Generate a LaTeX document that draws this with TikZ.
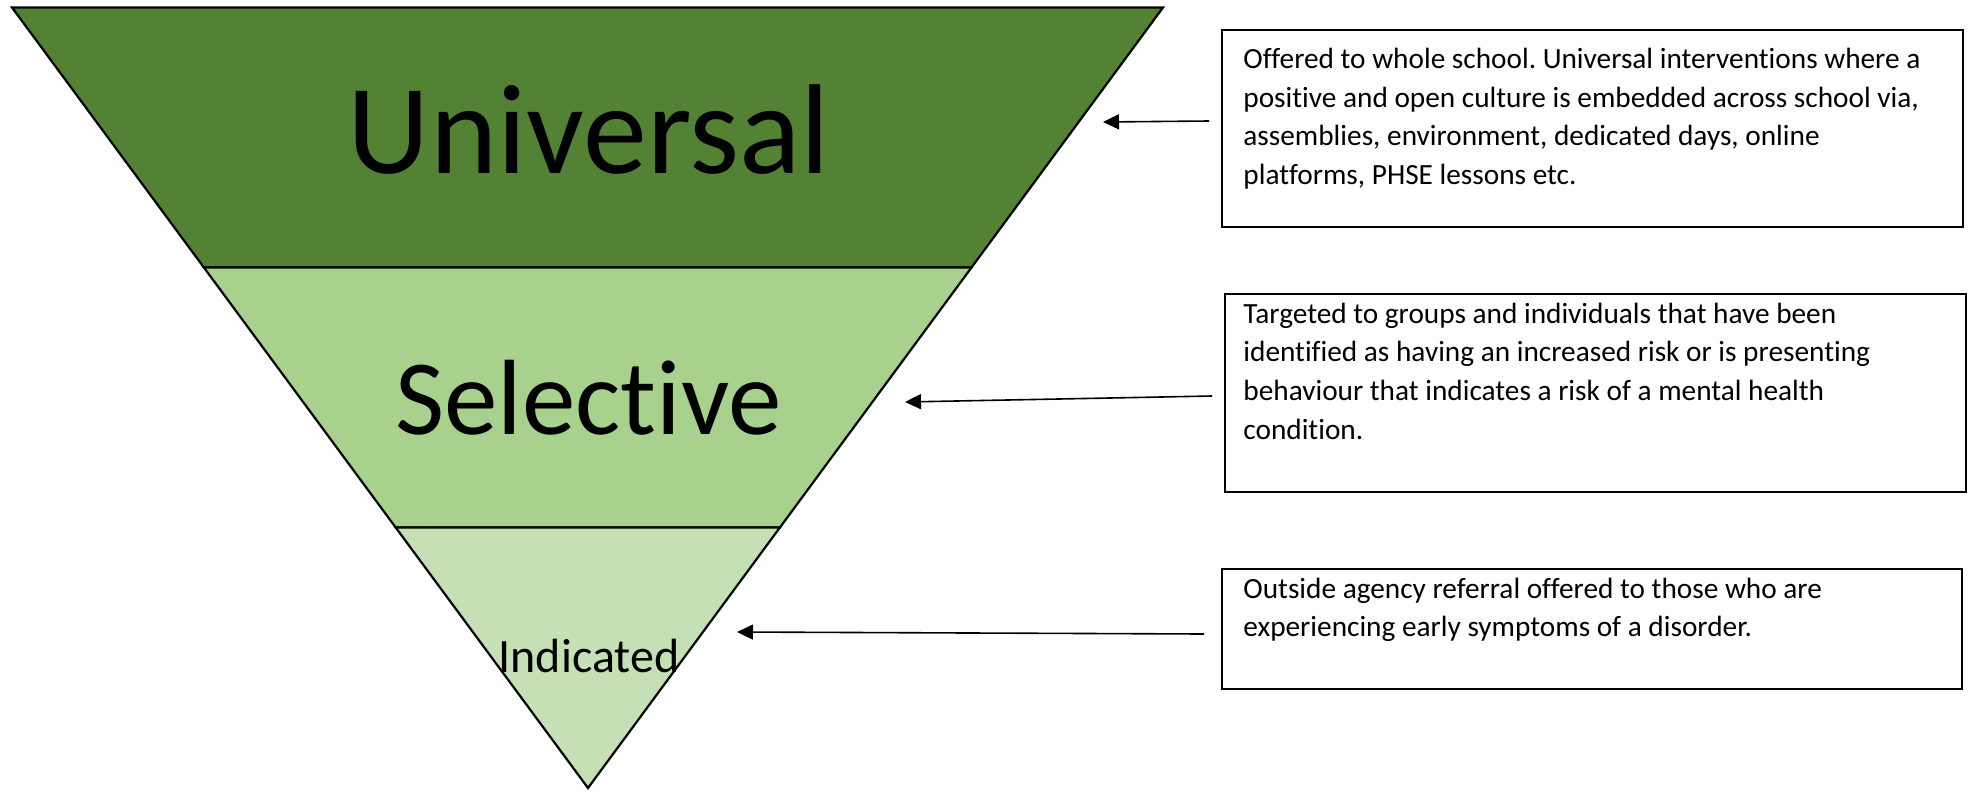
\documentclass[tikz,border=0pt]{standalone}
\usepackage{fontspec}
\setmainfont{Carlito}[Ligatures={NoCommon}]
\usetikzlibrary{arrows.meta}
\definecolor{univgreen}{HTML}{548235}
\definecolor{selgreen}{HTML}{A9D18E}
\definecolor{indgreen}{HTML}{C5E0B4}
\frenchspacing
\begin{document}
\begin{tikzpicture}[x=0.5pt,y=-0.5pt,
  band/.style={draw=black,line width=1.1pt,line join=miter},
  infobox/.style={draw=black,line width=1pt,fill=white,inner sep=0pt,anchor=north west},
  boxtext/.style={anchor=base west,inner sep=0pt,font=\fontsize{14.65}{19.4}\selectfont},
  tierlabel/.style={anchor=base,inner sep=0pt},
  pointer/.style={draw=black,line width=0.8pt,-{Triangle[length=8pt,width=7.5pt]}}
  ]
\useasboundingbox (0,0) rectangle (1970,793);
% pyramid bands
\path[band,fill=univgreen] (12,7.5) -- (1163,7.5) -- (971.5,267.5) -- (203.9,267.5) -- cycle;
\path[band,fill=selgreen] (203.9,267.5) -- (971.5,267.5) -- (779.9,527.5) -- (395.7,527.5) -- cycle;
\path[band,fill=indgreen] (395.7,527.5) -- (779.9,527.5) -- (588,788) -- cycle;
% tier labels
\node[tierlabel,font=\fontsize{64}{64}\selectfont] (universal) at (589,173) {Universal};
\node[tierlabel,font=\fontsize{53.5}{53.5}\selectfont] (selective) at (588.5,434) {Selective};
\node[tierlabel,font=\fontsize{24}{24}\selectfont] (indicated) at (589,672) {Indicated};
% info boxes
\node[infobox,minimum width=370.5pt,minimum height=98.5pt] (boxU) at (1221,29) {};
\node[infobox,minimum width=370.5pt,minimum height=99pt] (boxS) at (1224,293) {};
\node[infobox,minimum width=370pt,minimum height=60pt] (boxI) at (1221,568) {};
\node[boxtext] (textU) at (1243,68.3) {\begin{tabular}[t]{@{}l@{}}Offered to whole school. Universal interventions where a\\positive and open culture is embedded across school via,\\assemblies, environment, dedicated days, online\\platforms, PHSE lessons etc.\end{tabular}};
\node[boxtext] (textS) at (1243,323) {\begin{tabular}[t]{@{}l@{}}Targeted to groups and individuals that have been\\identified as having an increased risk or is presenting\\behaviour that indicates a risk of a mental health\\condition.\end{tabular}};
\node[boxtext] (textI) at (1243,598) {\begin{tabular}[t]{@{}l@{}}Outside agency referral offered to those who are\\experiencing early symptoms of a disorder.\end{tabular}};
% arrows
\coordinate (startU) at (1209,121);
\coordinate (tipU) at (1103,122);
\coordinate (startS) at (1212,396);
\coordinate (tipS) at (905,402);
\coordinate (startI) at (1204,634);
\coordinate (tipI) at (737,632);
\draw[pointer] (startU) -- (tipU);
\draw[pointer] (startS) -- (tipS);
\draw[pointer] (startI) -- (tipI);
\end{tikzpicture}
\end{document}
